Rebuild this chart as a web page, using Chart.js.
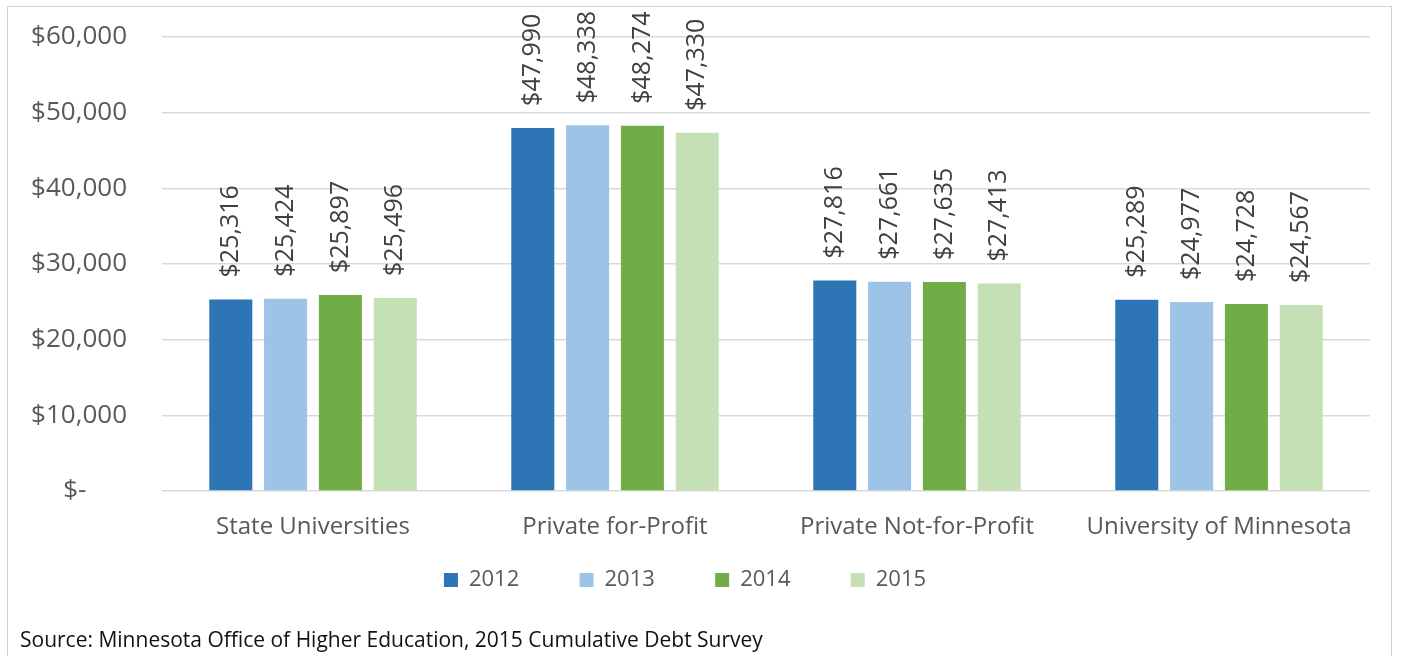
<!DOCTYPE html>
<html>
<head>
<meta charset="utf-8">
<script src="https://cdn.jsdelivr.net/npm/chart.js@4.4.1/dist/chart.umd.min.js"></script>
<style>
  html, body { margin: 0; padding: 0; background: #fff; }
  #wrap { position: relative; width: 1403px; height: 656px; overflow: hidden; }
  #frame { position: absolute; left: 7px; top: 6px; width: 1383px; height: 700px; border: 1px solid #d2d2d2; }
  #debtChart { position: absolute; left: 0; top: 0; }
  #source { position: absolute; left: 20px; top: 625px; font: 21px "Open Sans", sans-serif; color: #111; white-space: nowrap; }
</style>
</head>
<body>
<div id="wrap">
  <div id="frame"></div>
  <canvas id="debtChart" width="1403" height="656"></canvas>
  <div id="source">Source: Minnesota Office of Higher Education, 2015 Cumulative Debt Survey</div>
</div>
<script>
// chart data
const categories = ['State Universities', 'Private for-Profit', 'Private Not-for-Profit', 'University of Minnesota'];
const years = ['2012', '2013', '2014', '2015'];
const debt2012 = [25316, 47990, 27816, 25289];
const debt2013 = [25424, 48338, 27661, 24977];
const debt2014 = [25897, 48274, 27635, 24728];
const debt2015 = [25496, 47330, 27413, 24567];
const tickLabels = ['$-      ', '$10,000', '$20,000', '$30,000', '$40,000', '$50,000', '$60,000'];

const colors = ['#2e75b6', '#9dc3e6', '#70ad47', '#c5e0b4'];
const textGrey = '#595959';

function money(v) {
    return '$' + v.toLocaleString('en-US');
}

// value labels standing on top of each bar, turned upright
const barLabels = {
    id: 'barLabels',
    afterDatasetsDraw(chart) {
        const ctx = chart.ctx;
        ctx.save();
        ctx.font = '25px "Open Sans"';
        ctx.fillStyle = '#404040';
        ctx.textAlign = 'left';
        ctx.textBaseline = 'middle';
        chart.data.datasets.forEach((ds, i) => {
            chart.getDatasetMeta(i).data.forEach((bar, j) => {
                ctx.save();
                ctx.translate(bar.x, bar.y - 22);
                ctx.rotate(-Math.PI / 2);
                ctx.fillText(money(ds.data[j]), 0, 0);
                ctx.restore();
            });
        });
        ctx.restore();
    }
};

const series = [debt2012, debt2013, debt2014, debt2015];

new Chart(document.getElementById('debtChart'), {
    type: 'bar',
    data: {
        labels: categories,
        datasets: series.map((data, i) => ({
            label: years[i],
            data: data,
            backgroundColor: colors[i],
            borderWidth: 0,
            categoryPercentage: 0.726,
            barPercentage: 0.785
        }))
    },
    options: {
        responsive: false,
        animation: false,
        layout: {
            padding: { top: 37, right: 33, bottom: 55, left: 0 }
        },
        plugins: {
            legend: {
                position: 'bottom',
                labels: {
                    boxWidth: 14,
                    boxHeight: 14,
                    padding: 26,
                    color: textGrey,
                    font: { family: 'Open Sans', size: 22 },
                    // widen the gap between legend entries the way the original spaces them
                    generateLabels(chart) {
                        const items = Chart.defaults.plugins.legend.labels.generateLabels(chart);
                        items.forEach((item, i) => {
                            if (i < items.length - 1) item.text += '      ';
                        });
                        return items;
                    }
                }
            },
            tooltip: { enabled: false }
        },
        scales: {
            x: {
                grid: { display: false, drawTicks: false },
                border: { display: false },
                ticks: {
                    color: textGrey,
                    padding: 22,
                    maxRotation: 0,
                    autoSkip: false,
                    font: { family: 'Open Sans', size: 24 }
                },
                afterFit(scale) {
                    scale.height = 52;
                }
            },
            y: {
                min: 0,
                max: 60000,
                border: { display: false },
                grid: {
                    color: '#d9d9d9',
                    lineWidth: 1.5,
                    drawTicks: false
                },
                ticks: {
                    stepSize: 10000,
                    color: textGrey,
                    padding: 35,
                    font: { family: 'Open Sans', size: 26 },
                    callback: function(value) {
                        return tickLabels[Math.round(value / 10000)];
                    }
                },
                afterFit(scale) {
                    scale.width = 162;
                    // tick padding is horizontal here, don't let it push the top down
                    scale.paddingTop = 16;
                    scale.paddingBottom = 16;
                }
            }
        }
    },
    plugins: [barLabels]
});
</script>
</body>
</html>
